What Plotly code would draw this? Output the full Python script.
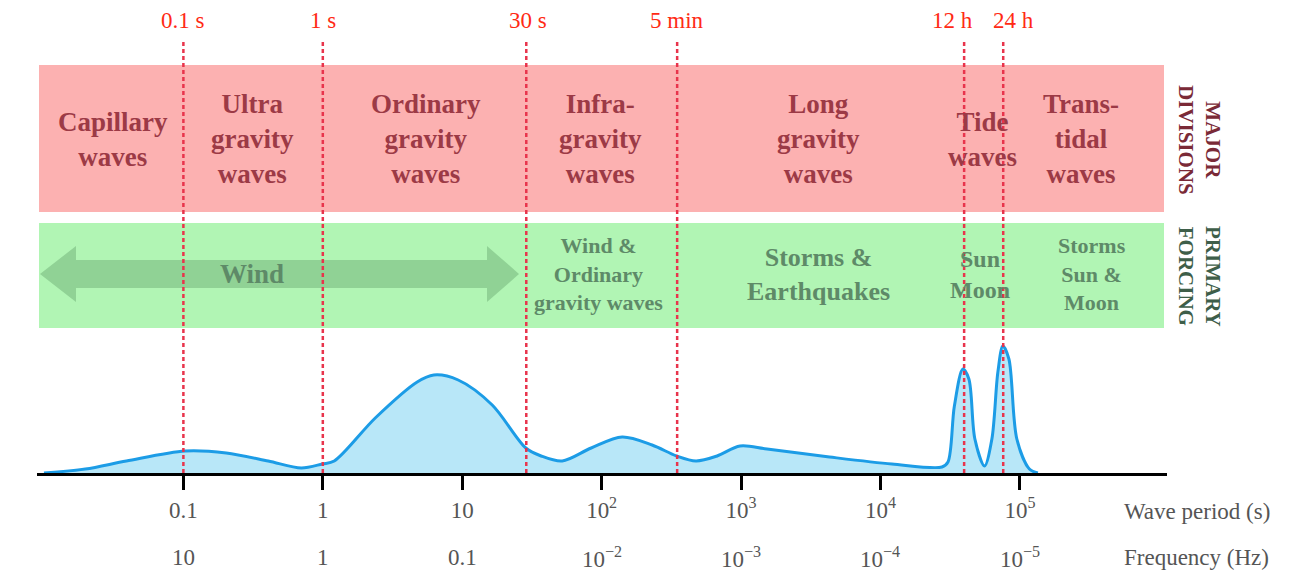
import numpy as np
import plotly.graph_objects as go

# ---------------- data ----------------
# Spectrum: wave period (s) vs. relative energy (arbitrary units)
period_s = [0.01, 0.0198, 0.039, 0.1033, 0.203, 0.406, 0.701, 0.991, 1.208, 2.377,
            4.753, 6.252, 9.354, 16.41, 28.58, 36.81, 52.12, 84.14, 140.3, 230.1,
            345.1, 475.3, 673, 984, 1535, 4305, 12078, 27606, 30479, 33884,
            38994, 43053, 47534, 55719, 62951, 69502, 75509, 83368, 95060, 116950,
            134590]
energy = [0, 4, 12, 22, 20, 12, 5, 9, 12, 55,
          91, 98, 93, 68, 25, 17, 12, 25, 36, 28,
          17, 12, 17, 27, 24, 16, 9, 6, 11, 67,
          104, 94, 34, 7, 34, 101, 127, 114, 34, 4,
          0]

# dashed markers (period in s as placed in the picture) and their labels
marker_period_s = [0.1, 1, 28.8, 348, 39800, 75900]
marker_labels = ["0.1 s", "1 s", "30 s", "5 min", "12 h", "24 h"]

# axis ticks
tick_period = [0.1, 1, 10, 100, 1e3, 1e4, 1e5]
tick_period_text = ["0.1", "1", "10", "10<sup>2</sup>", "10<sup>3</sup>", "10<sup>4</sup>", "10<sup>5</sup>"]
tick_freq_text = ["10", "1", "0.1", "10<sup>\u22122</sup>", "10<sup>\u22123</sup>", "10<sup>\u22124</sup>", "10<sup>\u22125</sup>"]

division_labels = ["Capillary<br>waves", "Ultra<br>gravity<br>waves", "Ordinary<br>gravity<br>waves",
                   "Infra-<br>gravity<br>waves", "Long<br>gravity<br>waves", "Tide<br>waves",
                   "Trans-<br>tidal<br>waves"]
forcing_labels = ["Wind", "Wind &<br>Ordinary<br>gravity waves", "Storms &<br>Earthquakes",
                  "Sun<br>Moon", "Storms<br>Sun &<br>Moon"]

# ---------------- layout geometry ----------------
W, H = 1293, 575
ML, MR, MT, MB = 37, 126, 0, 102
PW = W - ML - MR
PH = H - MT - MB
XMIN_LOG, XMAX_LOG = -2.05, 6.055


def px(x):
    return (x - ML) / PW


def py(y):
    return (PH - (y - MT)) / PH


def ydat(y):
    return PH - (y - MT)


SERIF = "Liberation Serif"
RED_BAND = "#fcb1b1"
GREEN_BAND = "#b1f5b4"
DIV_COLOR = "#9c3a46"
FORCE_COLOR = "#5e8a68"
MARK_COLOR = "#e8344c"

fig = go.Figure()

# spectrum
fig.add_trace(go.Scatter(
    x=period_s, y=energy, mode="lines",
    line=dict(color="#1c9ce6", width=3, shape="spline", smoothing=0.9),
    fill="tozeroy", fillcolor="#b8e7f8", hoverinfo="skip", showlegend=False))

# dashed markers
for p in marker_period_s:
    fig.add_trace(go.Scatter(
        x=[p, p], y=[0, ydat(42)], mode="lines",
        line=dict(color=MARK_COLOR, width=2.5, dash="4px,3px"),
        hoverinfo="skip", showlegend=False))

shapes = []
# bands
shapes.append(dict(type="rect", xref="paper", yref="y", x0=px(39), x1=px(1164),
                   y0=ydat(212), y1=ydat(65), fillcolor=RED_BAND, line_width=0, layer="below"))
shapes.append(dict(type="rect", xref="paper", yref="y", x0=px(39), x1=px(1164),
                   y0=ydat(328), y1=ydat(223), fillcolor=GREEN_BAND, line_width=0, layer="below"))
# double arrow
pts = [(40, 274), (76, 246), (76, 260), (487, 260), (487, 246), (519, 274),
       (487, 302), (487, 288), (76, 288), (76, 302)]
path = "M " + " L ".join(f"{px(x):.5f},{ydat(y):.2f}" for x, y in pts) + " Z"
shapes.append(dict(type="path", xref="paper", yref="y", path=path,
                   fillcolor="rgba(85,150,95,0.36)", line_width=0, layer="below"))

annotations = []
# marker labels
label_shift = [0, 0, 2, 0, -12, 10]
for p, t, s in zip(marker_period_s, marker_labels, label_shift):
    annotations.append(dict(x=np.log10(p), xref="x", y=py(20), yref="paper", text=t,
                            showarrow=False, xanchor="center", yanchor="middle", xshift=s,
                            font=dict(family=SERIF, size=23, color="#ff2a14")))

# division labels
div_x = [113, 252, 426, 600, 818, 982, 1081]
for t, x in zip(division_labels, div_x):
    annotations.append(dict(x=px(x), xref="paper", y=py(139), yref="paper", text=t,
                            showarrow=False, xanchor="center", yanchor="middle",
                            font=dict(family=SERIF, size=27, color=DIV_COLOR, weight="bold")))

# forcing labels
force_x = [252, 598, 818, 980, 1092]
force_size = [27, 22, 26, 24, 22]
for t, x, s in zip(forcing_labels, force_x, force_size):
    annotations.append(dict(x=px(x), xref="paper", y=py(274), yref="paper", text=t,
                            showarrow=False, xanchor="center", yanchor="middle",
                            font=dict(family=SERIF, size=s, color=FORCE_COLOR, weight="bold")))

# side titles
annotations.append(dict(x=px(1200), xref="paper", y=py(140), yref="paper", text="MAJOR<br>DIVISIONS",
                        showarrow=False, textangle=90, xanchor="center", yanchor="middle",
                        font=dict(family=SERIF, size=21, color="#7a2a37", weight="bold")))
annotations.append(dict(x=px(1200), xref="paper", y=py(276), yref="paper", text="PRIMARY<br>FORCING",
                        showarrow=False, textangle=90, xanchor="center", yanchor="middle",
                        font=dict(family=SERIF, size=21, color="#3e5e49", weight="bold")))

# frequency row
for p, t in zip(tick_period, tick_freq_text):
    annotations.append(dict(x=np.log10(p), xref="x", y=py(557), yref="paper", text=t,
                            showarrow=False, xanchor="center", yanchor="middle",
                            font=dict(family=SERIF, size=23, color="#555555")))

# axis titles
annotations.append(dict(x=px(1122), xref="paper", y=py(511), yref="paper", text="Wave period (s)",
                        showarrow=False, xanchor="left", yanchor="middle",
                        font=dict(family=SERIF, size=23, color="#555555")))
annotations.append(dict(x=px(1122), xref="paper", y=py(557), yref="paper", text="Frequency (Hz)",
                        showarrow=False, xanchor="left", yanchor="middle",
                        font=dict(family=SERIF, size=23, color="#555555")))

fig.update_layout(
    width=W, height=H,
    margin=dict(l=ML, r=MR, t=MT, b=MB),
    paper_bgcolor="white", plot_bgcolor="white",
    showlegend=False,
    shapes=shapes, annotations=annotations,
    xaxis=dict(type="log", range=[XMIN_LOG, XMAX_LOG], showgrid=False, zeroline=False,
               showline=True, linecolor="black", linewidth=3,
               ticks="outside", ticklen=14, tickwidth=3, tickcolor="black",
               tickvals=tick_period, ticktext=tick_period_text, ticklabelstandoff=0,
               tickfont=dict(family=SERIF, size=23, color="#555555")),
    yaxis=dict(visible=False, range=[0, PH], fixedrange=True),
)

fig.write_html("out.html", config={"displayModeBar": False},
               post_script="document.body.style.margin='0';document.body.style.overflow='hidden';")
